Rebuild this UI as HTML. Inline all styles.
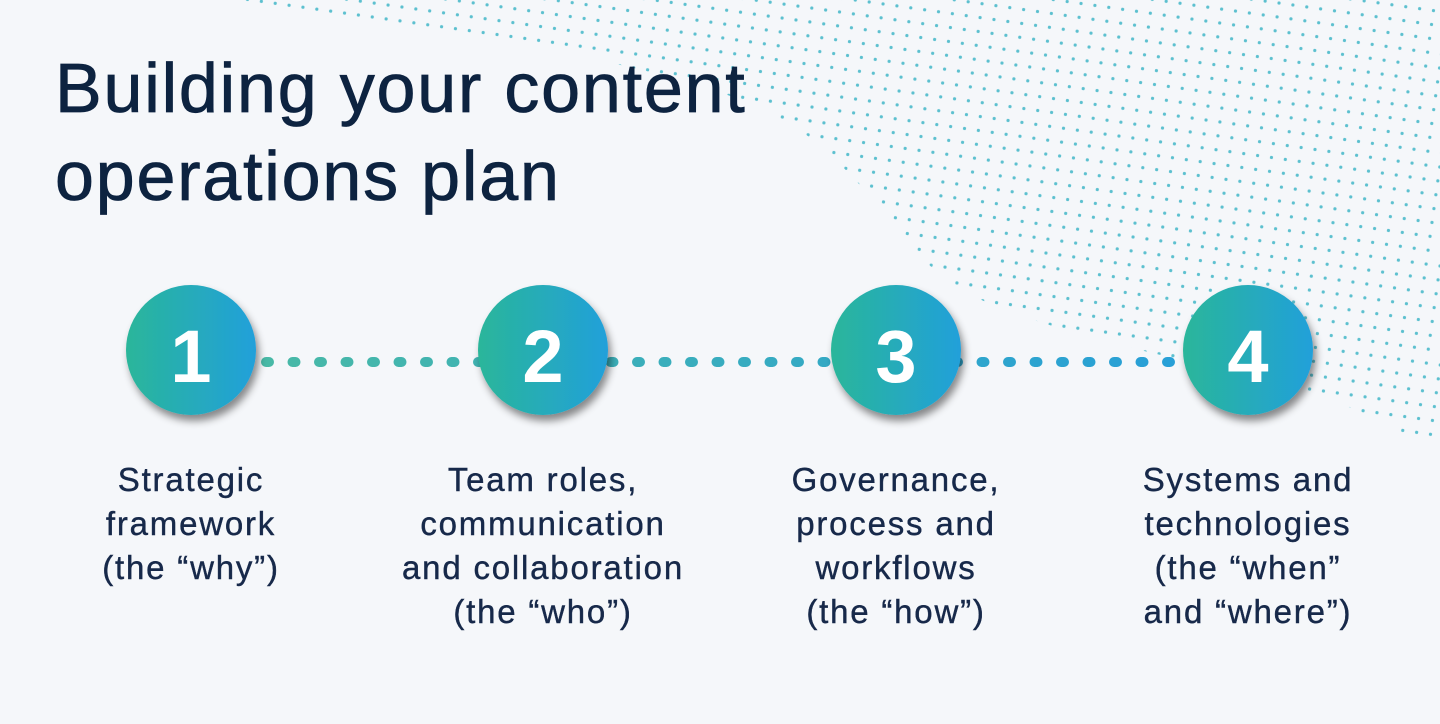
<!DOCTYPE html>
<html><head><meta charset="utf-8"><style>
html,body{margin:0;padding:0;background:#f5f7fa;}
body{width:1440px;height:724px;position:relative;overflow:hidden;font-family:"Liberation Sans",sans-serif;}
svg{position:absolute;left:0;top:0;}
.t{position:absolute;left:55px;color:#0d2340;font-size:70px;line-height:88px;top:44px;letter-spacing:1.8px;-webkit-text-stroke:0.8px #0d2340;}
.l{position:absolute;width:400px;text-align:center;color:#17294a;font-size:33px;line-height:44px;top:458px;letter-spacing:1.8px;-webkit-text-stroke:0.4px #17294a;}
</style></head><body>
<svg width="1440" height="724" viewBox="0 0 1440 724">
<defs>
<pattern id="dp" width="14" height="14" patternUnits="userSpaceOnUse" patternTransform="rotate(8)">
<circle cx="7" cy="7" r="1.6" fill="#5cc0cf"/>
</pattern>
<clipPath id="cp"><path d="M210 0 C420 30 700 60 800 130 C880 190 900 250 960 290 C1060 340 1200 360 1300 390 C1370 410 1410 440 1440 450 L1440 0 Z"/></clipPath>
<linearGradient id="g" x1="0" y1="0" x2="1" y2="0"><stop offset="0" stop-color="#2ab69a"/><stop offset="1" stop-color="#22a0da"/></linearGradient>
<linearGradient id="lg" gradientUnits="userSpaceOnUse" x1="260" y1="0" x2="1190" y2="0"><stop offset="0" stop-color="#48b9a6"/><stop offset="1" stop-color="#279fd8"/></linearGradient>
<filter id="sh" x="-30%" y="-30%" width="160%" height="160%"><feDropShadow dx="3" dy="6" stdDeviation="4" flood-color="#000" flood-opacity="0.45"/></filter>
</defs>
<rect width="1440" height="724" fill="url(#dp)" clip-path="url(#cp)"/>
<path d="M266 362 H1190" stroke="url(#lg)" stroke-width="10" stroke-linecap="round" stroke-dasharray="3 23.5" fill="none"/>
<g filter="url(#sh)">
<circle cx="191" cy="350" r="65" fill="url(#g)"/>
<circle cx="543" cy="350" r="65" fill="url(#g)"/>
<circle cx="896" cy="350" r="65" fill="url(#g)"/>
<circle cx="1248" cy="350" r="65" fill="url(#g)"/>
</g>
<g font-family="Liberation Sans, sans-serif" font-size="74" fill="#fff" text-anchor="middle" font-weight="bold">
<text x="191" y="382">1</text><text x="543" y="382">2</text><text x="896" y="382">3</text><text x="1248" y="382">4</text>
</g>
</svg>
<div class="t">Building your content<br>operations plan</div>
<div class="l" style="left:-9px">Strategic<br>framework<br>(the “why”)</div>
<div class="l" style="left:343px">Team roles,<br>communication<br>and collaboration<br>(the “who”)</div>
<div class="l" style="left:696px">Governance,<br>process and<br>workflows<br>(the “how”)</div>
<div class="l" style="left:1048px">Systems and<br>technologies<br>(the “when”<br>and “where”)</div>
</body></html>
